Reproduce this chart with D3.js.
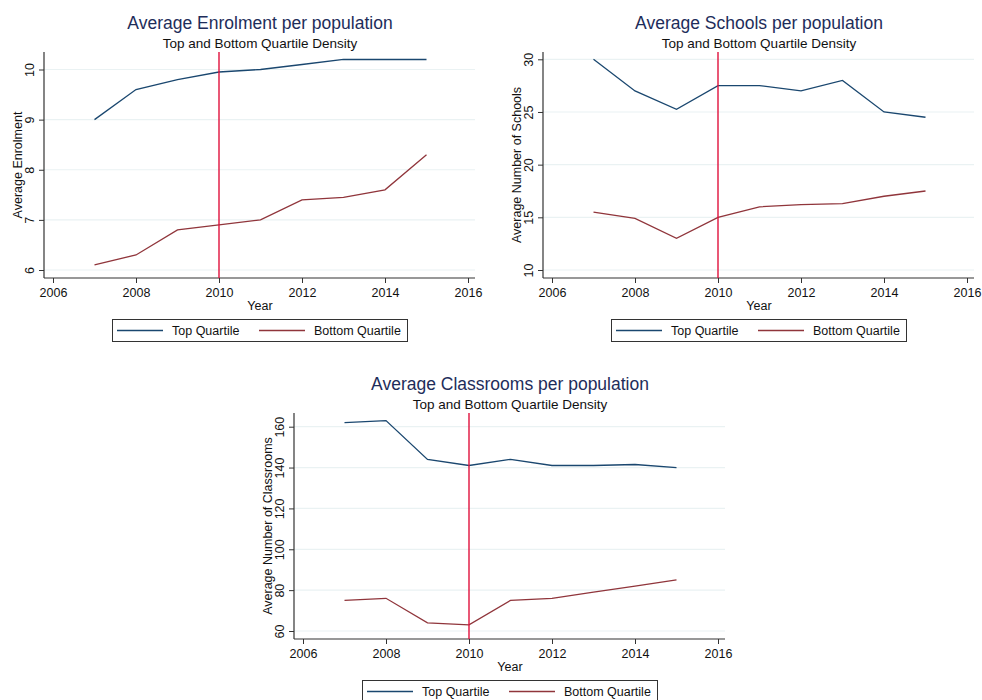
<!DOCTYPE html>
<html><head><meta charset="utf-8">
<script src="https://cdn.jsdelivr.net/npm/d3@7"></script>
<style>body{margin:0;background:#fff;} svg{display:block;font-family:"Liberation Sans",Arial,sans-serif;}</style>
</head><body>
<svg id="chart" width="982" height="700"></svg>
<script>
const years = [2007, 2008, 2009, 2010, 2011, 2012, 2013, 2014, 2015];
const xTicks = [2006, 2008, 2010, 2012, 2014, 2016];
const seriesNames = ["Top Quartile", "Bottom Quartile"];
const subtitle = "Top and Bottom Quartile Density";
const xLabel = "Year";
const markerYear = 2010;

const enrolTitle = "Average Enrolment per population";
const enrolYLabel = "Average Enrolment";
const enrolTop = [9.0, 9.6, 9.8, 9.95, 10.0, 10.1, 10.2, 10.2, 10.2];
const enrolBottom = [6.1, 6.3, 6.8, 6.9, 7.0, 7.4, 7.45, 7.6, 8.3];
const enrolYTicks = [6, 7, 8, 9, 10];

const schoolsTitle = "Average Schools per population";
const schoolsYLabel = "Average Number of Schools";
const schoolsTop = [30.0, 27.0, 25.25, 27.5, 27.5, 27.0, 28.0, 25.0, 24.5];
const schoolsBottom = [15.5, 14.9, 13.0, 15.0, 16.0, 16.2, 16.3, 17.0, 17.5];
const schoolsYTicks = [10, 15, 20, 25, 30];

const classTitle = "Average Classrooms per population";
const classYLabel = "Average Number of Classrooms";
const classTop = [162, 163, 144, 141, 144, 141, 141, 141.5, 140];
const classBottom = [75, 76, 64, 63, 75, 76, 79, 82, 85];
const classYTicks = [60, 80, 100, 120, 140, 160];

const colors = ["#1a476f", "#90353b"];
const svg = d3.select("#chart");

function panel(ox, oy, title, yLabel, top, bottom, yTicks, yTopPx) {
  const g = svg.append("g").attr("transform", `translate(${ox},${oy})`);
  const x = d3.scaleLinear().domain([2006, 2016]).range([53, 468]);
  const y = d3.scaleLinear().domain([yTicks[0], yTicks[yTicks.length - 1]]).range([270, yTopPx]);
  const left = 44, right = 475, plotTop = 52, plotBottom = 278;

  // gridlines
  g.selectAll("line.grid").data(yTicks).enter().append("line")
    .attr("x1", left).attr("x2", right)
    .attr("y1", d => y(d)).attr("y2", d => y(d))
    .attr("stroke", "#eaf2f3").attr("stroke-width", 1.2);

  // axes
  const xAxis = d3.axisBottom(x).tickValues(xTicks).tickFormat(d3.format("d")).tickSize(5).tickSizeOuter(0);
  const xg = g.append("g").attr("transform", `translate(0,${plotBottom})`).call(xAxis);
  xg.select(".domain").remove();
  g.append("line").attr("x1", left).attr("x2", right).attr("y1", plotBottom).attr("y2", plotBottom).attr("stroke", "#333").attr("stroke-width", 1.2);
  xg.selectAll(".tick line").attr("stroke", "#333");
  xg.selectAll(".tick text").attr("font-size", 12.5).attr("fill", "#111").attr("dy", null).attr("y", 19);

  const yAxis = d3.axisLeft(y).tickValues(yTicks).tickFormat(d3.format("d")).tickSize(5).tickSizeOuter(0);
  const yg = g.append("g").attr("transform", `translate(${left},0)`).call(yAxis);
  yg.select(".domain").remove();
  g.append("line").attr("x1", left).attr("x2", left).attr("y1", plotTop).attr("y2", plotBottom).attr("stroke", "#333").attr("stroke-width", 1.2);
  yg.selectAll(".tick line").attr("stroke", "#333");
  yg.selectAll(".tick text").attr("font-size", 12.5).attr("fill", "#111")
    .attr("x", null).attr("dy", null)
    .attr("text-anchor", "middle")
    .attr("transform", "translate(-10,0) rotate(-90)");

  // series
  const line = d3.line().x((d, i) => x(years[i])).y(d => y(d));
  [top, bottom].forEach((s, k) => {
    g.append("path").datum(s).attr("d", line).attr("fill", "none")
      .attr("stroke", colors[k]).attr("stroke-width", 1.3);
  });

  // marker line
  g.append("line").attr("x1", x(markerYear)).attr("x2", x(markerYear))
    .attr("y1", plotTop).attr("y2", plotBottom)
    .attr("stroke", "#e0103c").attr("stroke-width", 1.4);

  // titles
  g.append("text").attr("x", 260).attr("y", 29).attr("text-anchor", "middle")
    .attr("font-size", 17.5).attr("fill", "#1e2d5a").text(title);
  g.append("text").attr("x", 260).attr("y", 47.5).attr("text-anchor", "middle")
    .attr("font-size", 13.5).attr("fill", "#111").text(subtitle);
  g.append("text").attr("x", 260).attr("y", 310).attr("text-anchor", "middle")
    .attr("font-size", 12.5).attr("fill", "#111").text(xLabel);
  g.append("text").attr("transform", `translate(22,165) rotate(-90)`).attr("text-anchor", "middle")
    .attr("font-size", 12.5).attr("fill", "#111").text(yLabel);

  // legend
  g.append("rect").attr("x", 112.5).attr("y", 319.5).attr("width", 295).attr("height", 22)
    .attr("fill", "#fff").attr("stroke", "#333").attr("stroke-width", 1);
  const lx = [117, 259];
  seriesNames.forEach((n, k) => {
    g.append("line").attr("x1", lx[k]).attr("x2", lx[k] + 46).attr("y1", 330.5).attr("y2", 330.5)
      .attr("stroke", colors[k]).attr("stroke-width", 1.3);
    g.append("text").attr("x", lx[k] + 55).attr("y", 335).attr("font-size", 12.5).attr("fill", "#111").text(n);
  });
}

panel(0, 0, enrolTitle, enrolYLabel, enrolTop, enrolBottom, enrolYTicks, 69.5);
panel(499, 0, schoolsTitle, schoolsYLabel, schoolsTop, schoolsBottom, schoolsYTicks, 59.3);
panel(250, 361, classTitle, classYLabel, classTop, classBottom, classYTicks, 65.7);
</script>
</body></html>
